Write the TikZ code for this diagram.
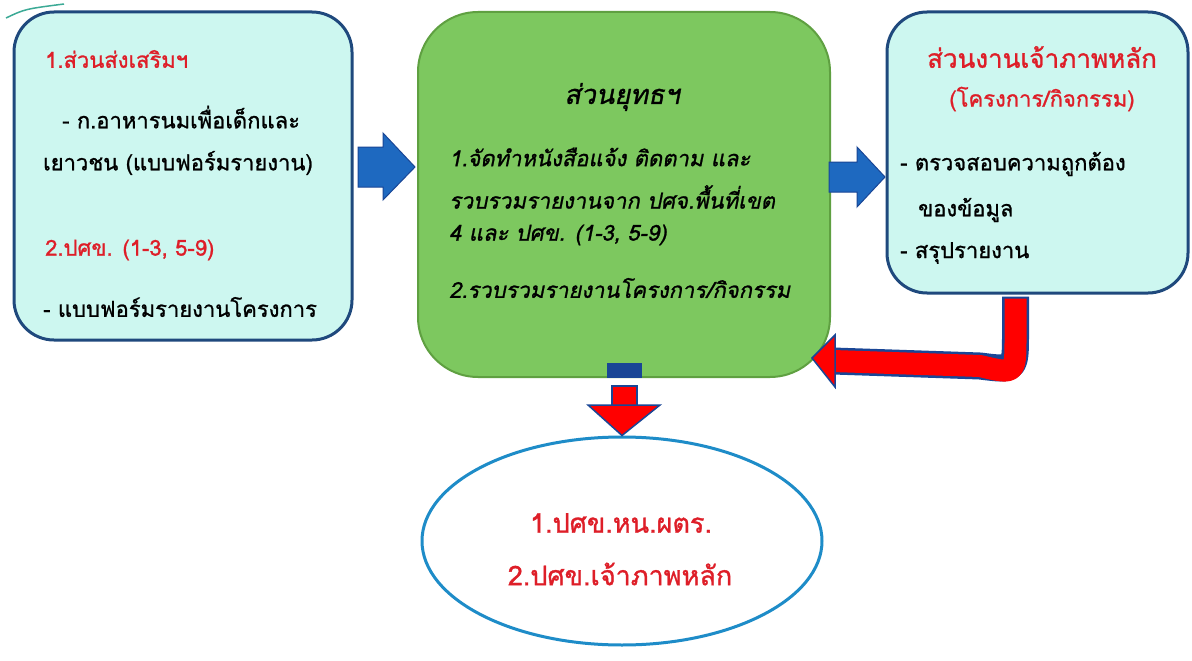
\documentclass[tikz,border=0pt]{standalone}
\usepackage{fontspec}
\setmainfont[Script=Thai,AutoFakeSlant=0.2,FakeBold=1.1]{Loma}
\usetikzlibrary{shapes.geometric}
\definecolor{boxcyan}{RGB}{205,247,240}
\definecolor{boxblue}{RGB}{31,73,125}
\definecolor{stratgreen}{RGB}{125,200,95}
\definecolor{stratedge}{RGB}{95,160,65}
\definecolor{arrblue}{RGB}{30,105,192}
\definecolor{arredge}{RGB}{25,70,150}
\definecolor{redtext}{RGB}{222,30,40}
\definecolor{ellblue}{RGB}{30,140,200}
\definecolor{tealline}{RGB}{60,170,150}

\begin{document}
\begin{tikzpicture}[x=1pt,y=-1pt,
  box/.style={draw=boxblue,line width=3pt,fill=boxcyan,rounded corners=40pt,inner sep=0pt},
  stratbox/.style={draw=stratedge,line width=2pt,fill=stratgreen,rounded corners=60pt,inner sep=0pt},
  txt/.style={anchor=west,inner sep=0pt,font=\fontsize{22}{26}\selectfont},
  redtxt/.style={txt,text=redtext},
  itxt/.style={txt,font=\fontsize{22}{26}\selectfont\itshape},
  bluearr/.style={fill=arrblue,draw=arredge,line width=1pt},
  redarr/.style={fill=red,draw=arredge,line width=1.5pt}]
  \useasboundingbox[fill=white] (0,0) rectangle (1192,661);
  \draw[tealline,line width=1.5pt] (6,18) .. controls (25,9) .. (64,4);

  % boxes
  \node[box,minimum width=338pt,minimum height=328pt] (promo) at (183,176) {};
  \node[stratbox,minimum width=412pt,minimum height=365pt] (strat) at (624,194.5) {};
  \node[box,minimum width=301pt,minimum height=281pt] (host) at (1037.5,152.5) {};
  \node[ellipse,draw=ellblue,line width=3pt,fill=white,minimum width=400pt,minimum height=208pt] (office) at (622,541) {};

  % left box text
  \node[redtxt] (p1) at (45,59) {1.ส่วนส่งเสริมฯ};
  \node[txt] (p2) at (62,117) {- ก.อาหารนมเพื่อเด็กและ};
  \node[txt] (p3) at (43,163) {เยาวชน (แบบฟอร์มรายงาน)};
  \node[redtxt] (p4) at (45,250) {2.ปศข. (1-3, 5-9)};
  \node[txt] (p5) at (43,307) {- แบบฟอร์มรายงานโครงการ};

  % green box text
  \node[itxt,anchor=center,font=\fontsize{27}{30}\selectfont\itshape] (s0) at (622,97) {ส่วนยุทธฯ};
  \node[itxt] (s1) at (449,157) {1.จัดทำหนังสือแจ้ง ติดตาม และ};
  \node[itxt] (s2) at (449,197) {รวบรวมรายงานจาก ปศจ.พื้นที่เขต};
  \node[itxt] (s3) at (449,235) {4 และ ปศข. (1-3, 5-9)};
  \node[itxt] (s4) at (449,288) {2.รวบรวมรายงานโครงการ/กิจกรรม};

  % right box text
  \node[redtxt,anchor=center,font=\fontsize{26}{30}\selectfont] (h0) at (1042,57) {ส่วนงานเจ้าภาพหลัก};
  \node[redtxt,anchor=center] (h1) at (1042,99) {(โครงการ/กิจกรรม)};
  \node[txt] (h2) at (900,164) {- ตรวจสอบความถูกต้อง};
  \node[txt] (h3) at (918,210) {ของข้อมูล};
  \node[txt] (h4) at (900,253) {- สรุปรายงาน};

  % ellipse text
  \node[redtxt,anchor=center,font=\fontsize{27}{30}\selectfont] (o1) at (621,523) {1.ปศข.หน.ผตร.};
  \node[redtxt,anchor=center,font=\fontsize{27}{30}\selectfont] (o2) at (620,574) {2.ปศข.เจ้าภาพหลัก};

  % blue arrows
  \coordinate (a1) at (358,167);
  \coordinate (a2) at (829,177);
  \draw[bluearr] (a1) ++(0,-20) -- ++(25,0) -- ++(0,-14) -- ++(32,34) -- ++(-32,33) -- ++(0,-13) -- ++(-25,0) -- cycle;
  \draw[bluearr] (a2) ++(0,-15) -- ++(28,0) -- ++(0,-15) -- ++(28,30) -- ++(-28,30) -- ++(0,-15) -- ++(-28,0) -- cycle;

  % red return arrow
  \coordinate (r0) at ([xshift=-22pt,yshift=-2pt]host.south);
  \coordinate (r1) at (833,361);
  \draw[arredge,line width=27pt,line join=round] (r0) -- ++(0,36) .. controls +(0,38) .. (980,366) -- (r1);
  \draw[red,line width=22pt,line join=round] ([yshift=-2pt]r0) -- ++(0,38) .. controls +(0,38) .. (980,366) -- (r1);
  \draw[redarr] (835,335) -- (812,358) -- (835,387) -- cycle;

  % down arrow
  \fill[arredge] ([xshift=-17pt]strat.south) rectangle ++(35,-15);
  \draw[redarr] (612,386) rectangle (637,406);
  \draw[redarr] (588,405) -- (660,405) -- (office.north) -- cycle;
\end{tikzpicture}
\end{document}
